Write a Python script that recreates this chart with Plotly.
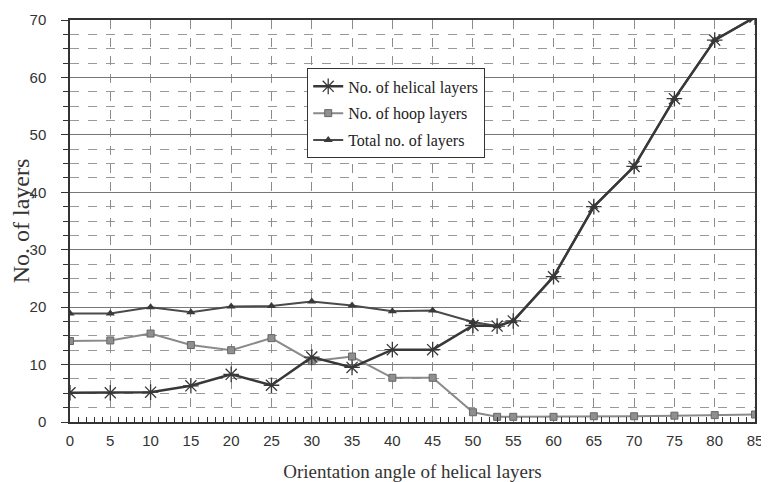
import plotly.graph_objects as go

angles = [0, 5, 10, 15, 20, 25, 30, 35, 40, 45, 50, 53, 55, 60, 65, 70, 75, 80, 85]
helical = [5.1, 5.1, 5.2, 6.3, 8.3, 6.4, 11.3, 9.5, 12.6, 12.6, 16.8, 16.7, 17.6, 25.3, 37.5, 44.5, 56.3, 66.5, 70.5]
hoop = [14.1, 14.2, 15.4, 13.4, 12.5, 14.6, 10.6, 11.4, 7.7, 7.7, 1.7, 0.9, 0.9, 0.9, 1.0, 1.0, 1.1, 1.2, 1.3]
total = [18.9, 18.9, 20.0, 19.1, 20.1, 20.2, 21.0, 20.3, 19.3, 19.4, 17.4, 16.7, 17.6, 25.3, 37.5, 44.5, 56.3, 66.5, 70.5]

fig = go.Figure()
fig.add_trace(go.Scatter(x=angles, y=total, name="Total no. of layers", mode="lines+markers",
                         legendgroup="c", legendrank=3,
                         line=dict(color="#4a4a4a", width=2),
                         marker=dict(symbol="triangle-up", size=8, color="#3a3a3a")))
fig.add_trace(go.Scatter(x=angles, y=hoop, name="No. of hoop layers", mode="lines+markers",
                         legendgroup="b", legendrank=2,
                         line=dict(color="#8a8a8a", width=2),
                         marker=dict(symbol="square", size=7, color="#8f8f8f",
                                     line=dict(color="#666666", width=1))))
fig.add_trace(go.Scatter(x=angles, y=helical, name="No. of helical layers", mode="lines+markers",
                         legendgroup="a", legendrank=1,
                         line=dict(color="#383838", width=2.5),
                         marker=dict(symbol="asterisk-open", size=13,
                                     line=dict(color="#3a3a3a", width=1.3))))

fig.update_layout(
    width=761, height=474,
    margin=dict(l=62, r=14, t=12, b=60, autoexpand=False),
    paper_bgcolor="white", plot_bgcolor="white",
    showlegend=True,
    legend=dict(x=0.346, y=0.88, xanchor="left", yanchor="top",
                traceorder="grouped", tracegroupgap=3,
                font=dict(family="Liberation Serif", size=16, color="#222"),
                bgcolor="white", bordercolor="#333", borderwidth=1.2,
                itemwidth=30),
    font=dict(family="Liberation Sans", color="#333"),
)
fig.update_xaxes(
    range=[0, 85], tickmode="linear", tick0=0, dtick=5, automargin=False,
    showgrid=True, gridcolor="#8c8c8c", gridwidth=1, griddash="dash",
    showline=True, linecolor="#333", linewidth=1.5, mirror=True,
    ticks="", ticklabelstandoff=4, ticklabeloverflow="allow",
    tickfont=dict(family="Liberation Sans", size=15, color="#333"),
    minor=dict(dtick=1, ticks="inside", ticklen=5, tickcolor="#333", showgrid=False),
    title=dict(text="Orientation angle of helical layers",
               font=dict(family="Liberation Serif", size=19, color="#333"), standoff=17),
    zeroline=False,
)
fig.update_yaxes(
    range=[0, 70], tickmode="linear", tick0=0, dtick=10, automargin=False,
    showgrid=True, gridcolor="#777777", gridwidth=1.2,
    showline=True, linecolor="#333", linewidth=1.5, mirror=True,
    ticks="outside", ticklen=7, tickcolor="#333", ticklabelstandoff=12,
    tickfont=dict(family="Liberation Sans", size=15, color="#333"),
    minor=dict(dtick=2.5, ticks="outside", ticklen=5, tickcolor="#333",
               showgrid=True, gridcolor="#999999", griddash="dash", gridwidth=1),
    title=dict(text="No. of layers",
               font=dict(family="Liberation Serif", size=24, color="#333"), standoff=2),
    zeroline=False,
)

fig.write_html("out.html")
